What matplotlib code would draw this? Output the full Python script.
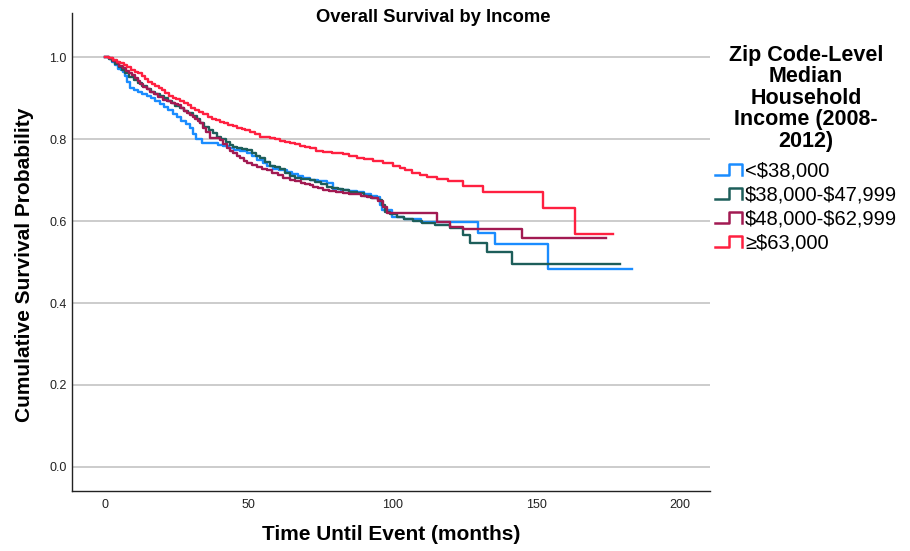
import numpy as np
import matplotlib
matplotlib.use("Agg")
import matplotlib.pyplot as plt
from matplotlib.lines import Line2D
from matplotlib.legend_handler import HandlerBase

plt.rcParams['font.family'] = ['Liberation Sans', 'DejaVu Sans']

# (time in months, survival after the step); last pair = end of follow-up
low = [(0, 1.0), (1.5, 0.995), (2.5, 0.989), (3.5, 0.981), (4.6, 0.972), (5.5, 0.968),
       (6.3, 0.964), (7.0, 0.955), (7.8, 0.940), (8.7, 0.924), (10, 0.920), (11.5, 0.916),
       (13, 0.911), (14.5, 0.906), (16, 0.900), (17.5, 0.893), (19, 0.885), (20.5, 0.878),
       (22, 0.870), (23.5, 0.862), (25, 0.853), (26.5, 0.845), (28, 0.836), (29.5, 0.826),
       (30.5, 0.813), (31.5, 0.800), (33.6, 0.790), (39.4, 0.786), (41, 0.782), (43, 0.778),
       (45, 0.774), (47, 0.770), (49.3, 0.765), (51, 0.758), (53, 0.750), (55, 0.742),
       (56.5, 0.735), (58.5, 0.728), (60.5, 0.725), (63.2, 0.720), (65, 0.714), (67, 0.709),
       (69, 0.704), (71.3, 0.700), (74, 0.698), (77.1, 0.694), (79.3, 0.678), (82, 0.675),
       (85, 0.673), (87.5, 0.670), (90, 0.665), (92.5, 0.662), (94.5, 0.659), (95.5, 0.640),
       (96.5, 0.627), (99.7, 0.611), (104, 0.606), (110, 0.598), (129.8, 0.572),
       (135.7, 0.543), (154.2, 0.483), (183.2, 0.483)]

mid1 = [(0, 1.0), (1.5, 0.996), (2.5, 0.990), (3.5, 0.984), (5, 0.976), (6, 0.968),
        (7, 0.960), (8.5, 0.952), (10, 0.944), (11.6, 0.936), (13, 0.929), (14.5, 0.922),
        (16, 0.916), (17.4, 0.911), (19, 0.905), (20.5, 0.899), (22, 0.893), (23.2, 0.887),
        (24.5, 0.881), (26, 0.875), (27.5, 0.869), (29, 0.863), (30.5, 0.856), (32, 0.848),
        (33, 0.838), (34.5, 0.830), (36, 0.822), (37.5, 0.814), (38.9, 0.806), (40.5, 0.799),
        (42, 0.792), (43.5, 0.786), (44.6, 0.781), (46, 0.778), (47.5, 0.776), (49.3, 0.773),
        (51, 0.766), (52.5, 0.759), (53.9, 0.753), (55.5, 0.744), (57.4, 0.735), (59, 0.731),
        (60.9, 0.727), (62.5, 0.718), (64.3, 0.709), (66, 0.705), (68, 0.702), (71.3, 0.700),
        (73, 0.695), (75, 0.690), (77.1, 0.684), (79, 0.680), (81, 0.678), (82.9, 0.676),
        (85, 0.672), (87.5, 0.668), (90, 0.662), (92.5, 0.657), (95, 0.651), (96.3, 0.638),
        (97.4, 0.623), (99, 0.616), (101.5, 0.610), (104, 0.606), (107, 0.600),
        (110.2, 0.594), (114.8, 0.590), (120, 0.582), (124.6, 0.566), (127, 0.546),
        (132.8, 0.525), (141.5, 0.494), (179, 0.494)]

mid2 = [(0, 1.0), (1.5, 0.997), (2.8, 0.991), (4, 0.985), (5, 0.979), (6.2, 0.973),
        (7.3, 0.967), (8.3, 0.961), (9.3, 0.956), (10.3, 0.949), (11.3, 0.942), (12.3, 0.935),
        (13.3, 0.928), (14.5, 0.921), (15.7, 0.915), (17, 0.909), (18.5, 0.902), (20.3, 0.895),
        (21.5, 0.892), (23, 0.889), (24.3, 0.886), (25.5, 0.883), (26.5, 0.876), (27.5, 0.869),
        (28.4, 0.863), (29.5, 0.858), (30.5, 0.854), (31.3, 0.850), (32.2, 0.844), (33, 0.838),
        (34, 0.828), (35, 0.818), (36.5, 0.802), (40, 0.798), (41.2, 0.788), (42.5, 0.778),
        (43.5, 0.771), (44.6, 0.765), (45.8, 0.759), (47, 0.753), (48.2, 0.747), (49.3, 0.741),
        (51, 0.737), (52.7, 0.732), (54.5, 0.728), (56.2, 0.724), (58, 0.718), (60, 0.712),
        (62, 0.706), (64.3, 0.700), (66, 0.697), (68, 0.694), (69.7, 0.691), (71.3, 0.688),
        (72.5, 0.684), (74, 0.680), (75.9, 0.676), (78, 0.674), (80.5, 0.672), (82.9, 0.669),
        (85, 0.667), (87, 0.665), (89, 0.662), (91, 0.659), (93, 0.655), (95, 0.648),
        (96.8, 0.635), (98, 0.619), (115.4, 0.598), (120, 0.586), (124.6, 0.580),
        (145, 0.558), (174.3, 0.558)]

high = [(0, 1.0), (1.5, 0.998), (2.8, 0.994), (4, 0.989), (5.2, 0.985), (6.5, 0.980),
        (7.8, 0.975), (9, 0.969), (10.4, 0.964), (11.5, 0.960), (12.8, 0.954), (14, 0.946),
        (15.1, 0.940), (16.3, 0.935), (17.5, 0.930), (18.6, 0.925), (19.7, 0.920), (21, 0.912),
        (22.3, 0.905), (23.5, 0.901), (24.7, 0.897), (26, 0.892), (27.3, 0.887), (28.7, 0.882),
        (30, 0.876), (31.3, 0.871), (32.7, 0.866), (34.2, 0.860), (35.7, 0.855), (37.1, 0.850),
        (38.6, 0.846), (40, 0.842), (41.5, 0.838), (42.9, 0.834), (44.5, 0.831), (46, 0.828),
        (47.5, 0.825), (48.7, 0.822), (50.4, 0.818), (52, 0.812), (53.9, 0.806), (55.5, 0.805),
        (57.4, 0.803), (59, 0.799), (60.8, 0.796), (62.5, 0.793), (64.3, 0.790), (66, 0.787),
        (67.8, 0.784), (69.5, 0.780), (71.3, 0.777), (73.5, 0.772), (75.9, 0.768), (79, 0.766),
        (82.8, 0.763), (85, 0.758), (87.5, 0.754), (90, 0.751), (93.2, 0.747), (96.7, 0.741),
        (100.2, 0.734), (102.6, 0.729), (104.5, 0.724), (106.8, 0.718), (109.5, 0.713),
        (112, 0.708), (115.5, 0.703), (119.3, 0.698), (124.5, 0.686), (131.5, 0.670),
        (152.3, 0.632), (163.5, 0.568), (176.6, 0.568)]

labels = ['<\\$38,000', '\\$38,000-\\$47,999', '\\$48,000-\\$62,999', '≥\\$63,000']
colors = ['#1a8cff', '#1d5e5a', '#a21a52', '#ff2040']
legend_title = 'Zip Code-Level\nMedian\nHousehold\nIncome (2008-\n2012)'


class StepHandler(HandlerBase):
    def create_artists(self, legend, orig_handle, xdescent, ydescent, width, height,
                       fontsize, trans):
        xs = np.array([0, 0.5, 0.5, 1.0, 1.0]) * width - xdescent
        ys = np.array([0.05, 0.05, 0.85, 0.85, 0.05]) * height - ydescent
        ln = Line2D(xs, ys, color=orig_handle.get_color(), lw=1.8, transform=trans)
        return [ln]


fig = plt.figure(figsize=(9.1, 5.51), dpi=100)
ax = fig.add_axes([0.0791, 0.109, 0.701, 0.867])

lines = []
for data, c, lab in zip([low, mid1, mid2, high], colors, labels):
    t, s = zip(*data)
    ln, = ax.step(t, s, where='post', color=c, lw=1.7, label=lab, zorder=3)
    lines.append(ln)

ax.set_xlim(-11.5, 210.4)
ax.set_ylim(-0.0585, 1.107)
ax.set_xticks([0, 50, 100, 150, 200])
ax.set_yticks([0.0, 0.2, 0.4, 0.6, 0.8, 1.0])
ax.set_yticklabels(['0.0', '0.2', '0.4', '0.6', '0.8', '1.0'])
ax.tick_params(length=0, labelsize=9, colors='#222222')
ax.tick_params(axis='x', pad=6)
ax.tick_params(axis='y', pad=4)
ax.grid(axis='y', color='#c8c8c8', lw=1.3, zorder=0)
ax.set_axisbelow(True)
for side in ['top', 'right']:
    ax.spines[side].set_visible(False)
for side in ['left', 'bottom']:
    ax.spines[side].set_color('#222222')
    ax.spines[side].set_linewidth(1.0)

ax.set_xlabel('Time Until Event (months)', fontsize=15, fontweight='bold')
ax.set_ylabel('Cumulative Survival Probability', fontsize=15, fontweight='bold')
ax.xaxis.set_label_coords(0.5, -0.071)
ax.yaxis.set_label_coords(-0.06, 0.473)

fig.text(433 / 910, 1 - 18 / 551, 'Overall Survival by Income', fontsize=13.2,
         fontweight='bold', ha='center', va='center')

fig.text(806 / 910, 1 - 45 / 551, legend_title, fontsize=15.5, fontweight='bold',
         ha='center', va='top', multialignment='center', linespacing=1.03)

leg = fig.legend(handles=lines, labels=labels, loc='upper left',
                 bbox_to_anchor=(715 / 910, 1 - 161 / 551), frameon=False,
                 handler_map={Line2D: StepHandler()}, fontsize=14.5,
                 handlelength=1.35, handletextpad=0.15, labelspacing=0.25,
                 borderpad=0, borderaxespad=0)

fig.savefig('out.png', dpi=100)
